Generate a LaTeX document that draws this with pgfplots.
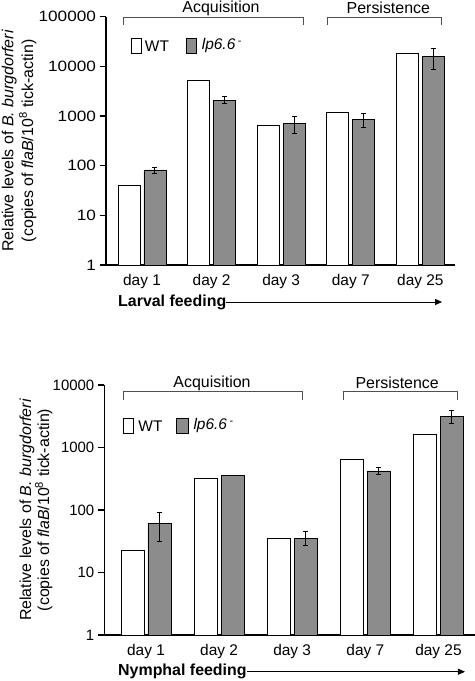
\documentclass[border=0pt]{standalone}
\usepackage{fontspec}
\setmainfont{Liberation Sans}
\newfontfamily\widefont[FakeStretch=1.15]{Liberation Sans}
\usepackage{pgfplots}
\pgfplotsset{compat=1.18}
\usetikzlibrary{arrows.meta}
\definecolor{barg}{RGB}{140,140,140}
\definecolor{brk}{RGB}{80,80,80}
\begin{document}
\begin{tikzpicture}
\path[use as bounding box] (0,0) rectangle (475bp,681bp);

% ---------------- top panel ----------------
\begin{axis}[scale only axis, ymode=log, ymin=1, ymax=100000,
  at={(106bp,416bp)}, anchor=south west, width=349bp, height=248.3bp,
  xmin=-0.517, xmax=4.497,
  axis x line*=bottom, axis y line*=left,
  axis line style={line width=1.5bp, black, -},
  xtick={0,1,2,3,4}, xticklabels={day 1,day 2,day 3,day 7,day 25},
  xtick style={draw=none},
  yminorticks=false, tick align=outside,
  ytick style={line width=1.2bp, black}, major tick length=6bp,
  xticklabel style={font=\fontsize{15.5}{18}\selectfont},
  yticklabel style={font=\widefont\fontsize{15}{18}\selectfont, xshift=-0.5bp},
  clip=false,
  ytick={1,10,100,1000,10000,100000},
  yticklabels={1,10,100,1000,10000,100000},
  ybar=4bp, bar width=22bp,
  ylabel={Relative levels of \textit{B. burgdorferi}\\(copies of \textit{flaB}/10\textsuperscript{8} tick-actin)},
  ylabel style={align=center, anchor=center, at={(axis description cs:-0.249,0.5)}, font=\fontsize{16}{20}\selectfont},
]
\addplot[draw=black, fill=white, line width=0.8bp] coordinates {(0,40) (1,5230) (2,660) (3,1165) (4,18300)};
\addplot[draw=black, fill=barg, line width=0.8bp,
    error bars/.cd, y dir=both, y explicit, error mark=-,
    error bar style={line width=1bp, black},
    error mark options={rotate=90, line width=1bp, mark size=2.5bp, black}]
  coordinates {(0,82) +- (0,11) (1,2100) +- (0,320) (2,713) +- (0,270) (3,857) +- (0,280) (4,15900) +- (0,7100)};

\draw[brk, line width=0.8bp] (rel axis cs:0.0487,0.9666) -- (rel axis cs:0.0487,0.9988) -- (rel axis cs:0.5645,0.9988) -- (rel axis cs:0.5645,0.9666);
\draw[brk, line width=0.8bp] (rel axis cs:0.633,0.9666) -- (rel axis cs:0.633,0.9988) -- (rel axis cs:0.960,0.9988) -- (rel axis cs:0.960,0.9666);
\node[font=\fontsize{16}{19}\selectfont] at (rel axis cs:0.3295,1.035) {Acquisition};
\node[font=\fontsize{16}{19}\selectfont] at (rel axis cs:0.809,1.035) {Persistence};

\draw[black, line width=0.8bp, fill=white] (rel axis cs:0.0736,0.8526) rectangle (rel axis cs:0.1003,0.913);
\node[anchor=west, inner sep=0pt, font=\fontsize{15.5}{18}\selectfont] at (rel axis cs:0.1110,0.882) {WT};
\draw[black, line width=0.8bp, fill=barg] (rel axis cs:0.2292,0.8526) rectangle (rel axis cs:0.2599,0.913);
\node[anchor=west, inner sep=0pt, font=\fontsize{15.5}{18}\selectfont] at (rel axis cs:0.2742,0.882) {\textit{lp6.6}\,\textsuperscript{-}};

\node[anchor=west, inner sep=0pt, font=\bfseries\fontsize{16}{19}\selectfont] (lf) at (rel axis cs:0.0344,-0.149) {Larval feeding};
\draw[-{Triangle[length=7bp,width=6bp]}, line width=0.8bp] (lf.east) -- (rel axis cs:0.963,-0.149);
\end{axis}

% ---------------- bottom panel ----------------
\begin{axis}[scale only axis, ymode=log, ymin=1, ymax=10000,
  at={(104.3bp,46bp)}, anchor=south west, width=370.7bp, height=250bp,
  xmin=-0.570, xmax=4.50,
  axis x line*=bottom, axis y line*=left,
  axis line style={line width=1.5bp, black, -},
  xtick={0,1,2,3,4}, xticklabels={day 1,day 2,day 3,day 7,day 25},
  xtick style={draw=none},
  yminorticks=false, tick align=outside,
  ytick style={line width=1.2bp, black}, major tick length=6bp,
  xticklabel style={font=\fontsize{15.5}{18}\selectfont},
  yticklabel style={font=\fontsize{15}{18}\selectfont, xshift=-0.5bp},
  clip=false,
  ytick={1,10,100,1000,10000},
  yticklabels={1,10,100,1000,10000},
  ybar=4bp, bar width=23bp,
  ylabel={Relative levels of \textit{B. burgdorferi}\\(copies of \textit{flaB}/10\textsuperscript{8} tick-actin)},
  ylabel style={align=center, anchor=center, at={(axis description cs:-0.184,0.5)}, font=\fontsize{16}{18}\selectfont},
]
\addplot[draw=black, fill=white, line width=0.8bp] coordinates {(0,22.7) (1,317) (2,34.7) (3,638) (4,1644)};
\addplot[draw=black, fill=barg, line width=0.8bp,
    error bars/.cd, y dir=both, y explicit, error mark=-,
    error bar style={line width=1bp, black},
    error mark options={rotate=90, line width=1bp, mark size=2.5bp, black}]
  coordinates {(0,61) +- (0,30) (1,354) +- (0,0) (2,35.6) +- (0,9) (3,421) +- (0,50) (4,3155) +- (0,750)};

\draw[brk, line width=0.8bp] (rel axis cs:0.0504,0.94) -- (rel axis cs:0.0504,0.973) -- (rel axis cs:0.5356,0.973) -- (rel axis cs:0.5356,0.94);
\draw[brk, line width=0.8bp] (rel axis cs:0.6439,0.94) -- (rel axis cs:0.6439,0.973) -- (rel axis cs:0.9514,0.973) -- (rel axis cs:0.9514,0.94);
\node[font=\fontsize{16}{19}\selectfont] at (rel axis cs:0.2905,1.007) {Acquisition};
\node[font=\fontsize{16}{19}\selectfont] at (rel axis cs:0.790,1.007) {Persistence};

\draw[black, line width=0.8bp, fill=white] (rel axis cs:0.0513,0.8068) rectangle (rel axis cs:0.0793,0.8668);
\node[anchor=west, inner sep=0pt, font=\fontsize{15.5}{18}\selectfont] at (rel axis cs:0.0917,0.8368) {WT};
\draw[black, line width=0.8bp, fill=barg] (rel axis cs:0.1953,0.8068) rectangle (rel axis cs:0.2277,0.8668);
\node[anchor=west, inner sep=0pt, font=\fontsize{15.5}{18}\selectfont] at (rel axis cs:0.2401,0.8368) {\textit{lp6.6}\,\textsuperscript{-}};

\node[anchor=west, inner sep=0pt, font=\bfseries\fontsize{16}{19}\selectfont] (nf) at (rel axis cs:0.037,-0.147) {Nymphal feeding};
\draw[-{Triangle[length=7bp,width=6bp]}, line width=0.8bp] (nf.east) -- (rel axis cs:0.973,-0.147);
\end{axis}
\end{tikzpicture}
\end{document}
